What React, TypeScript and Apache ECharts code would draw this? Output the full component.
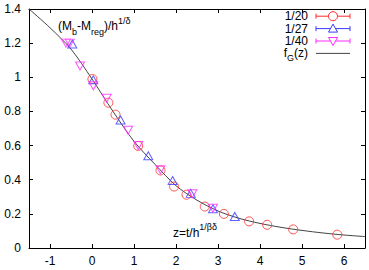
import React, { useEffect, useRef } from 'react';
import * as echarts from 'echarts';

// ---- data ----
const xTickValues = [-1, 0, 1, 2, 3, 4, 5, 6];
const seriesNames = ['1/20', '1/27', '1/40'];

const z20 = [0.01, 0.39, 0.56, 1.10, 1.63, 1.955, 2.25, 2.685, 3.14, 3.74, 4.17, 4.79, 5.84];
const m20 = [0.99, 0.851, 0.781, 0.598, 0.454, 0.36, 0.312, 0.243, 0.20, 0.156, 0.136, 0.109, 0.078];

const z27 = [-0.47, 0.03, 0.68, 1.34, 1.92, 2.35, 2.88, 3.40];
const m27 = [1.195, 0.985, 0.75, 0.54, 0.395, 0.32, 0.23, 0.185];

const z40 = [-0.62, -0.53, -0.285, 0.03, 0.35, 0.86, 1.10, 1.63, 2.39, 2.88];
const m40 = [1.20, 1.20, 1.066, 0.95, 0.877, 0.69, 0.60, 0.458, 0.318, 0.233];

const curveZ = [-1.5, -1.0, -0.5, 0, 0.5, 1.0, 1.5, 2.0, 2.5, 3.0, 3.5, 4.0, 4.5, 5.0, 5.5, 6.0, 6.5];
const curveF = [1.40, 1.29, 1.165, 0.99, 0.80, 0.625, 0.49, 0.365, 0.28, 0.217, 0.174, 0.144, 0.121, 0.103, 0.088, 0.076, 0.067];

const colors = ['#ff2a2a', '#3a3aff', '#ff2aff'];
const curveColor = '#444444';
const FONT = "'Liberation Sans', Arial, sans-serif";

function pair(xs: number[], ys: number[]) {
  return xs.map((x, i) => [x, ys[i]]);
}

export default function App() {
  const ref = useRef<HTMLDivElement>(null);
  useEffect(() => {
    const chart = echarts.init(ref.current!, null, { renderer: 'svg' });

    const legendRowsY = [16.2, 28.6, 41, 53.4];
    const lx0 = 316, lx1 = 350, lmx = 333, ltx = 308;
    const legendGraphics: any[] = [];
    seriesNames.forEach((name, i) => {
      const y = legendRowsY[i];
      const c = colors[i];
      legendGraphics.push({
        type: 'text', x: ltx, y,
        style: { text: name, fill: '#000', font: `12px ${FONT}`, align: 'right', verticalAlign: 'middle' },
      });
      legendGraphics.push({ type: 'line', shape: { x1: lx0, y1: y, x2: lx1, y2: y }, style: { stroke: c, lineWidth: 1 } });
      legendGraphics.push({ type: 'line', shape: { x1: lx0, y1: y - 2.5, x2: lx0, y2: y + 2.5 }, style: { stroke: c, lineWidth: 1 } });
      legendGraphics.push({ type: 'line', shape: { x1: lx1, y1: y - 2.5, x2: lx1, y2: y + 2.5 }, style: { stroke: c, lineWidth: 1 } });
      if (i === 0) {
        legendGraphics.push({ type: 'circle', shape: { cx: lmx, cy: y, r: 4.5 }, style: { stroke: c, fill: '#fff', lineWidth: 1 } });
      } else if (i === 1) {
        legendGraphics.push({ type: 'polygon', shape: { points: [[lmx - 4.5, y + 3.5], [lmx + 4.5, y + 3.5], [lmx, y - 4.5]] }, style: { stroke: c, fill: '#fff', lineWidth: 1 } });
      } else {
        legendGraphics.push({ type: 'polygon', shape: { points: [[lmx - 4.5, y - 3.5], [lmx + 4.5, y - 3.5], [lmx, y + 4.5]] }, style: { stroke: c, fill: '#fff', lineWidth: 1 } });
      }
    });
    const fy = legendRowsY[3];
    legendGraphics.push({
      type: 'text', x: ltx, y: fy,
      style: {
        text: '{a|f}{sub|G}{a|(z)}', align: 'right', verticalAlign: 'middle', fill: '#000',
        rich: {
          a: { fontSize: 12, fontFamily: FONT, fill: '#000', lineHeight: 18 },
          sub: { fontSize: 9, fontFamily: FONT, fill: '#000', lineHeight: 12, verticalAlign: 'bottom' },
        },
      },
    });
    legendGraphics.push({ type: 'line', shape: { x1: lx0, y1: fy, x2: lx1, y2: fy }, style: { stroke: curveColor, lineWidth: 1 } });

    const richBase = {
      a: { fontSize: 12, fontFamily: FONT, fill: '#000', lineHeight: 20 },
      sub: { fontSize: 9, fontFamily: FONT, fill: '#000', lineHeight: 14, verticalAlign: 'bottom' },
      sup: { fontSize: 9, fontFamily: FONT, fill: '#000', lineHeight: 10, verticalAlign: 'top' },
    };

    const annotations = [
      {
        type: 'text', x: 58, y: 26,
        style: {
          text: '{a|(M}{sub|b}{a|-M}{sub|reg}{a|)/h}{sup|1/δ}',
          align: 'left', verticalAlign: 'middle', rich: richBase,
        },
      },
      {
        type: 'text', x: 173, y: 232.5,
        style: {
          text: '{a|z=t/h}{sup|1/βδ}',
          align: 'left', verticalAlign: 'middle', rich: richBase,
        },
      },
    ];

    const axisLineStyle = { color: '#000', width: 1 };
    const tickBase = { show: true, inside: true, length: 4, lineStyle: { color: '#000', width: 1 } };

    chart.setOption({
      animation: false,
      backgroundColor: '#fff',
      grid: { left: 29, right: 4, top: 9, bottom: 22, containLabel: false },
      xAxis: [
        {
          type: 'value', min: -1.5, max: 6.5, position: 'bottom',
          axisLine: { show: true, onZero: false, lineStyle: axisLineStyle },
          axisTick: { ...tickBase, customValues: xTickValues },
          axisLabel: { customValues: xTickValues, color: '#000', fontSize: 12, fontFamily: FONT, margin: 7 },
          splitLine: { show: false },
        },
        {
          type: 'value', min: -1.5, max: 6.5, position: 'top',
          axisLine: { show: true, onZero: false, lineStyle: axisLineStyle },
          axisTick: { ...tickBase, customValues: xTickValues },
          axisLabel: { show: false },
          splitLine: { show: false },
        },
      ],
      yAxis: [
        {
          type: 'value', min: 0, max: 1.4, interval: 0.2, position: 'left',
          axisLine: { show: true, onZero: false, lineStyle: axisLineStyle },
          axisTick: { ...tickBase },
          axisLabel: {
            color: '#000', fontSize: 12, fontFamily: FONT, margin: 8,
            formatter: (v: number) => String(+v.toFixed(1)),
          },
          splitLine: { show: false },
        },
        {
          type: 'value', min: 0, max: 1.4, interval: 0.2, position: 'right',
          axisLine: { show: true, onZero: false, lineStyle: axisLineStyle },
          axisTick: { ...tickBase },
          axisLabel: { show: false },
          splitLine: { show: false },
        },
      ],
      series: [
        {
          name: 'f_G(z)', type: 'line', xAxisIndex: 0, yAxisIndex: 0,
          data: pair(curveZ, curveF), symbol: 'none', showSymbol: false, smooth: 0.3,
          lineStyle: { color: curveColor, width: 1 }, z: 1,
        },
        {
          name: seriesNames[0], type: 'scatter', xAxisIndex: 0, yAxisIndex: 0,
          data: pair(z20, m20), symbol: 'circle', symbolSize: 9,
          itemStyle: { color: 'transparent', borderColor: colors[0], borderWidth: 1 }, z: 2,
        },
        {
          name: seriesNames[1], type: 'scatter', xAxisIndex: 0, yAxisIndex: 0,
          data: pair(z27, m27), symbol: 'triangle', symbolSize: [9, 8],
          itemStyle: { color: 'transparent', borderColor: colors[1], borderWidth: 1 }, z: 3,
        },
        {
          name: seriesNames[2], type: 'scatter', xAxisIndex: 0, yAxisIndex: 0,
          data: pair(z40, m40), symbol: 'triangle', symbolSize: [9, 8], symbolRotate: 180,
          itemStyle: { color: 'transparent', borderColor: colors[2], borderWidth: 1 }, z: 4,
        },
      ],
      graphic: [...annotations, ...legendGraphics],
    });
    return () => chart.dispose();
  }, []);
  return (
    <div
      ref={ref}
      style={{ position: 'fixed', left: 0, top: 0, width: 369, height: 270, background: '#fff' }}
    />
  );
}
